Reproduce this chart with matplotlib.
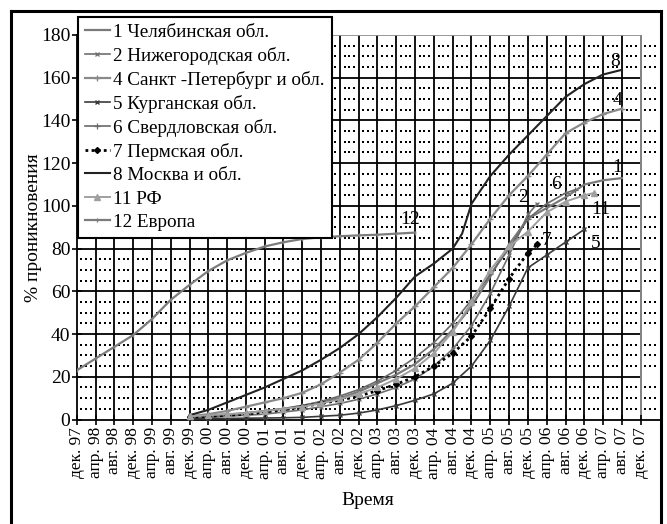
import numpy as np
import matplotlib
matplotlib.use("Agg")
import matplotlib.pyplot as plt
from matplotlib.lines import Line2D

plt.rcParams['font.family'] = ['Liberation Serif', 'DejaVu Serif']

# x: months since Dec 1997
tick_labels = []
_mn = ['дек.', 'апр.', 'авг.']
for i in range(31):
    yr = (97 + (i + 2) // 3) % 100
    tick_labels.append(f"{_mn[i % 3]} {yr:02d}")

m_eu = [0, 4, 8, 12, 16, 20, 24, 28, 32, 36, 40, 44, 48, 52, 56, 60, 64, 68, 72]
v_eu = [23, 28.5, 34, 39.5, 47, 56, 63, 69.5, 74.5, 78, 81, 83, 84.5, 85.3, 85.8, 86.2, 86.5, 87, 87.5]

m_msk = [24, 28, 32, 36, 40, 44, 48, 52, 56, 60, 64, 68, 72, 76, 80, 82, 84, 88, 92, 96, 100, 104, 108, 112, 116]
v_msk = [2, 4.5, 8, 11.5, 15, 19, 23, 28, 33.5, 40, 48, 57, 67, 73, 80, 87, 101, 114, 124, 133, 142, 151, 157, 161.5, 163.7]

m_spb = [24, 28, 32, 36, 40, 44, 48, 52, 56, 60, 64, 68, 72, 76, 80, 84, 88, 92, 96, 100, 104, 108, 112, 116]
v_spb = [1.5, 2.5, 4, 6, 8, 10, 12.5, 16.5, 22, 28, 36, 45, 53, 62, 71, 82, 94, 105, 114, 124, 134, 139, 143, 145.5]

m_chel = [24, 28, 32, 36, 40, 44, 48, 52, 56, 60, 64, 68, 72, 76, 80, 84, 88, 92, 96, 100, 104, 108, 112, 116]
v_chel = [1, 1.5, 2, 3, 4, 5, 6.5, 8, 10, 13, 17, 21, 26, 33, 42, 53, 67, 82, 94, 99, 104, 110, 112, 113]

m_nizh = [24, 28, 32, 36, 40, 44, 48, 52, 56, 60, 64, 68, 72, 76, 80, 84, 88, 92, 96, 98]
v_nizh = [0.5, 1, 1.5, 2, 2.5, 3.5, 4.5, 6, 7.5, 9.5, 12, 15, 19, 25, 33, 44, 59, 77, 96, 101]

m_kurg = [24, 28, 32, 36, 40, 44, 48, 52, 56, 60, 64, 68, 72, 76, 80, 84, 88, 92, 96, 100, 104, 108]
v_kurg = [0.3, 0.4, 0.5, 0.6, 0.7, 0.8, 1, 1.5, 2, 3, 4.5, 6.5, 9, 12, 17, 25, 37, 53, 71, 77, 83, 89]

m_sverd = [24, 28, 32, 36, 40, 44, 48, 52, 56, 60, 64, 68, 72, 76, 80, 84, 88, 92, 96, 100, 104, 106]
v_sverd = [1.5, 2, 2.5, 3, 4, 5, 6.5, 8.5, 11, 14, 18, 23, 29, 36, 45, 56, 68, 80, 94, 101, 106, 107.5]

m_perm = [24, 28, 32, 36, 40, 44, 48, 52, 56, 60, 64, 68, 72, 76, 80, 84, 88, 92, 96, 98]
v_perm = [1, 1.5, 2, 2.5, 3.5, 4.5, 6, 7.5, 9, 11, 13.5, 16.5, 20, 25, 31, 39, 52, 66, 78, 82]

m_rf = [24, 28, 32, 36, 40, 44, 48, 52, 56, 60, 64, 68, 72, 76, 80, 84, 88, 92, 96, 100, 104, 108, 110]
v_rf = [1.5, 2, 2.5, 3, 4, 5, 6, 7.5, 9.5, 12, 15, 19, 24, 31, 41, 55, 70, 81, 88, 97, 102, 105, 106]

fig = plt.figure(figsize=(6.67, 5.24), dpi=100)
L, R, B, T = 76.7, 659.5, 419.5, 35.0
ax = fig.add_axes([L / 667, (524 - B) / 524, (R - L) / 667, (B - T) / 524])
ax.set_xlim(0, 124)
ax.set_ylim(0, 180)

# grid: dotted minor (month x 5 units), solid major
mm, vv = np.meshgrid([m for m in range(0, 124) if m % 4], [v for v in range(0, 180, 5) if v % 20])
ax.scatter(mm.ravel(), vv.ravel(), s=1.0, c='black', marker='s', lw=0, zorder=1)
ax.vlines(np.arange(4, 121, 4), 0, 180, colors='black', lw=1.3, zorder=1)
ax.hlines(np.arange(20, 180, 20), 0, 120, colors='black', lw=1.3, zorder=1)
ax.vlines([120], 0, 180, colors='#909090', lw=1.3, zorder=1)
ax.hlines([180], 0, 120, colors='#909090', lw=1.3, zorder=1)
for s in ['top', 'right']:
    ax.spines[s].set_visible(False)
ax.spines['left'].set_linewidth(1.3)
ax.spines['bottom'].set_linewidth(1.3)

series = [
    ('1 Челябинская обл.', m_chel, v_chel, dict(color='#7a7a7a', lw=1.6)),
    ('2 Нижегородская обл.', m_nizh, v_nizh, dict(color='#6e6e6e', lw=1.2, marker='x', ms=3.5, mew=0.9)),
    ('4 Санкт -Петербург и обл.', m_spb, v_spb, dict(color='#8a8a8a', lw=1.6, marker='+', ms=5, mew=1.0)),
    ('5 Курганская обл.', m_kurg, v_kurg, dict(color='#3a3a3a', lw=1.2, marker='x', ms=3.5, mew=1.0)),
    ('6 Свердловская обл.', m_sverd, v_sverd, dict(color='#6a6a6a', lw=1.2, marker='+', ms=4, mew=0.9)),
    ('7 Пермская обл.', m_perm, v_perm, dict(color='black', lw=2.0, ls=(0, (1, 1.2)), marker='D', ms=3)),
    ('8 Москва и обл.', m_msk, v_msk, dict(color='#222222', lw=1.5)),
    ('11 РФ', m_rf, v_rf, dict(color='#a0a0a0', lw=1.4, marker='^', ms=4)),
    ('12 Европа', m_eu, v_eu, dict(color='#7c7c7c', lw=1.6, marker='|', ms=3)),
]
handles = []
for name, mx, vy, st in series:
    ln, = ax.plot(mx, vy, label=name, zorder=3, **st)
    handles.append(ln)

lab_kw = dict(fontsize=14, ha='center', va='center', zorder=4)
ax.text(114.5, 167.5, '8', **lab_kw)
ax.text(115.0, 149.5, '4', **lab_kw)
ax.text(115.0, 118.0, '1', **lab_kw)
ax.text(102.0, 110.0, '6', **lab_kw)
ax.text(95.0, 104.0, '2', **lab_kw)
ax.text(111.5, 98.5, '11', **lab_kw)
ax.text(100.0, 84.0, '7', **lab_kw)
ax.text(110.5, 82.5, '5', **lab_kw)
ax.text(71.0, 93.5, '12', **lab_kw)

ax.set_xticks(np.arange(0, 121, 4))
ax.set_xticklabels(tick_labels, rotation=90, fontsize=12.5)
ax.set_yticks(np.arange(0, 181, 20))
ax.tick_params(axis='y', labelsize=14, direction='inout', length=7, width=1.2, pad=1)
ax.tick_params(axis='x', direction='inout', length=7, width=1.2, pad=2)
ax.set_xlabel('Время', fontsize=14, labelpad=10)
ax.set_ylabel('% проникновения', fontsize=14, labelpad=-1)

leg = fig.legend(handles=handles, loc='upper left', bbox_to_anchor=(78 / 667, 1 - 17 / 524),
                 fontsize=13.8, frameon=True, fancybox=False, numpoints=1,
                 handlelength=1.3, handletextpad=0.2, labelspacing=0.31,
                 borderpad=0.35, borderaxespad=0)
leg.get_frame().set_edgecolor('black')
leg.get_frame().set_linewidth(1.5)
leg.get_frame().set_alpha(1)

# outer frame
for xs, ys in [((11, 11), (524, 11)), ((11, 661), (11, 11)), ((661, 661), (11, 524))]:
    fig.add_artist(Line2D([x / 667 for x in xs], [1 - y / 524 for y in ys], color='black', lw=2.2))

fig.savefig('out.png', dpi=100)
